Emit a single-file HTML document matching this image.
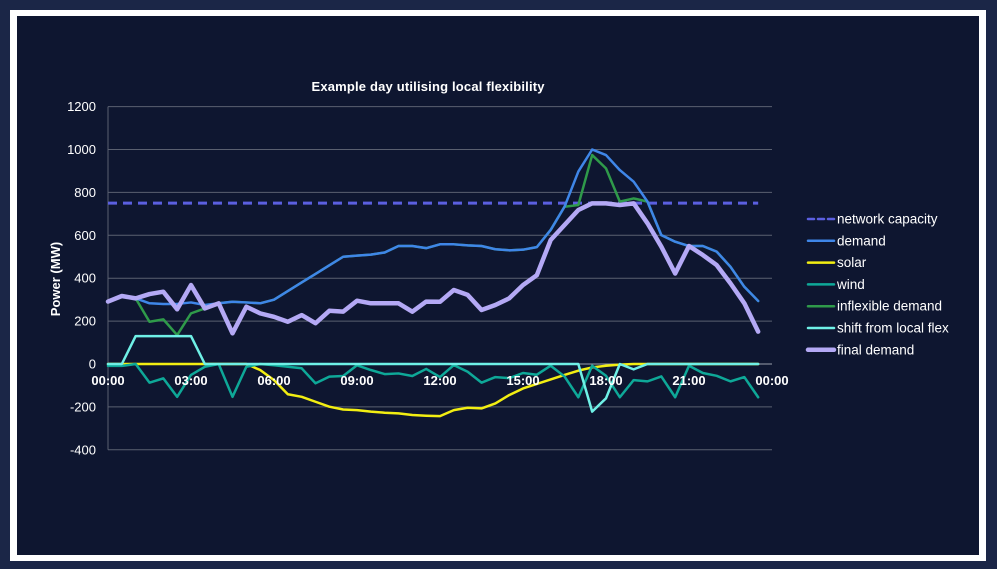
<!DOCTYPE html>
<html><head><meta charset="utf-8">
<style>
html,body{margin:0;padding:0;width:997px;height:569px;overflow:hidden;background:#1b2647;}
#frame{position:absolute;left:10px;top:10px;width:976px;height:551px;background:#fff;}
#panel{position:absolute;left:17px;top:16px;width:962px;height:539px;background:#0e1630;}
svg{position:absolute;left:0;top:0;}
text{font-family:"Liberation Sans",sans-serif;fill:#fff;}
</style></head>
<body>
<div id="frame"></div>
<div id="panel"></div>
<svg id="chart" width="997" height="569"></svg>
<script>
const timeLabels=["00:00","03:00","06:00","09:00","12:00","15:00","18:00","21:00","00:00"];
const yTicks=[1200,1000,800,600,400,200,0,-200,-400];
const capacity=750;
const demand=[291,320,306,283,280,280,287,275,283,290,287,283,300,340,380,420,460,500,505,510,520,550,550,540,558,558,553,550,535,530,533,545,625,733,897,1000,974,904,850,757,601,570,550,550,524,453,360,294];
const solar=[0,0,0,0,0,0,0,0,0,0,0,-28,-75,-141,-153,-176,-199,-212,-215,-222,-227,-230,-238,-241,-243,-215,-204,-207,-184,-145,-114,-93,-72,-51,-31,-16,-8,-3,0,0,0,0,0,0,0,0,0,0];
const wind=[-9,-9,0,-87,-67,-153,-51,-13,0,-153,-13,0,-6,-13,-20,-90,-59,-56,-6,-28,-47,-44,-56,-23,-61,-5,-36,-87,-61,-66,-42,-50,-8,-58,-155,-8,-55,-155,-75,-81,-58,-155,-8,-42,-55,-81,-61,-155];
const inflexible=[291,320,306,197,208,135,236,259,283,290,287,283,300,340,380,420,460,500,505,510,520,550,550,540,558,558,553,550,535,530,533,545,625,733,741,974,912,757,772,757,601,570,550,550,524,453,360,294];
const shift=[0,0,130,130,130,130,130,0,0,0,0,0,0,0,0,0,0,0,0,0,0,0,0,0,0,0,0,0,0,0,0,0,0,0,0,-222,-160,0,-25,0,0,0,0,0,0,0,0,0];
const finalDemand=[291,317,306,326,337,255,368,259,283,143,267,236,220,197,228,190,248,244,295,283,283,283,244,291,290,345,322,252,275,306,368,414,578,648,718,749,749,741,749,656,547,422,550,508,461,376,283,151];

const svg=document.getElementById('chart');
const NS='http://www.w3.org/2000/svg';
const X0=108,X1=772,Y0=364,PXV=0.2145;
const xs=i=>X0+i*(X1-X0)/48;
const ys=v=>Y0-v*PXV;
function mk(tag,attrs){const e=document.createElementNS(NS,tag);for(const k in attrs)e.setAttribute(k,attrs[k]);svg.appendChild(e);return e;}

yTicks.forEach(v=>{
  const g=mk('line',{x1:X0,x2:X1,y1:ys(v),y2:ys(v),stroke:v===0?'#9aa0ad':'#5a6070','stroke-width':1});
  
  
  const t=mk('text',{x:96,y:ys(v)+4.5,'text-anchor':'end','font-size':13});
  t.textContent=v;
  
  
});
const ax=mk('line',{x1:X0,x2:X0,y1:ys(1200),y2:ys(-400),stroke:'#5a6070','stroke-width':1});



function series(arr,color,w,name,dash){
  const p=mk('polyline',{points:arr.map((v,i)=>xs(i)+','+ys(v)).join(' '),fill:'none',stroke:color,'stroke-width':w,'stroke-linejoin':'round','stroke-linecap':'round'});
  if(dash)p.setAttribute('stroke-dasharray',dash);
  
  
}
const cap=mk('line',{x1:xs(0),x2:xs(47),y1:ys(capacity),y2:ys(capacity),stroke:'#5b5fe0','stroke-width':3,'stroke-dasharray':'9 6'});


series(inflexible,'#2f9a4a',2.5,'inflexible-demand-line');
series(demand,'#3f86e8',2.5,'demand-line');
series(solar,'#f2ee12',2.5,'solar-line');
series(wind,'#0ea898',2.5,'wind-line');
series(shift,'#6ff0e6',2.5,'shift-from-local-flex-line');
series(finalDemand,'#b4a9f5',4.5,'final-demand-line');

timeLabels.forEach((l,i)=>{
  const t=mk('text',{x:X0+i*83,y:385,'text-anchor':'middle','font-size':13,'font-weight':'bold'});
  t.textContent=l;
  
  
});
const title=mk('text',{x:428,y:91,'text-anchor':'middle','font-size':13,'font-weight':'bold',textLength:233});
title.textContent='Example day utilising local flexibility';


const yt=mk('text',{x:0,y:0,'text-anchor':'middle','font-size':13,'font-weight':'bold',transform:'translate(60,279) rotate(-90)'});
yt.textContent='Power (MW)';



const legNames=['network capacity','demand','solar','wind','inflexible demand','shift from local flex','final demand'];
const legColors=['#5b5fe0','#3f86e8','#f2ee12','#0ea898','#2f9a4a','#6ff0e6','#b4a9f5'];
legNames.forEach((n,i)=>{
  const y=219+i*21.8;
  const l=mk('line',{x1:808,x2:834,y1:y,y2:y,stroke:legColors[i],'stroke-width':i===6?4.5:2.5,'stroke-linecap':'round'});
  if(i===0)l.setAttribute('stroke-dasharray','6 4');
  
  
  const t=mk('text',{x:837,y:y+4.5,'font-size':13.5});
  t.textContent=n;
  
  
});
</script>
</body></html>
